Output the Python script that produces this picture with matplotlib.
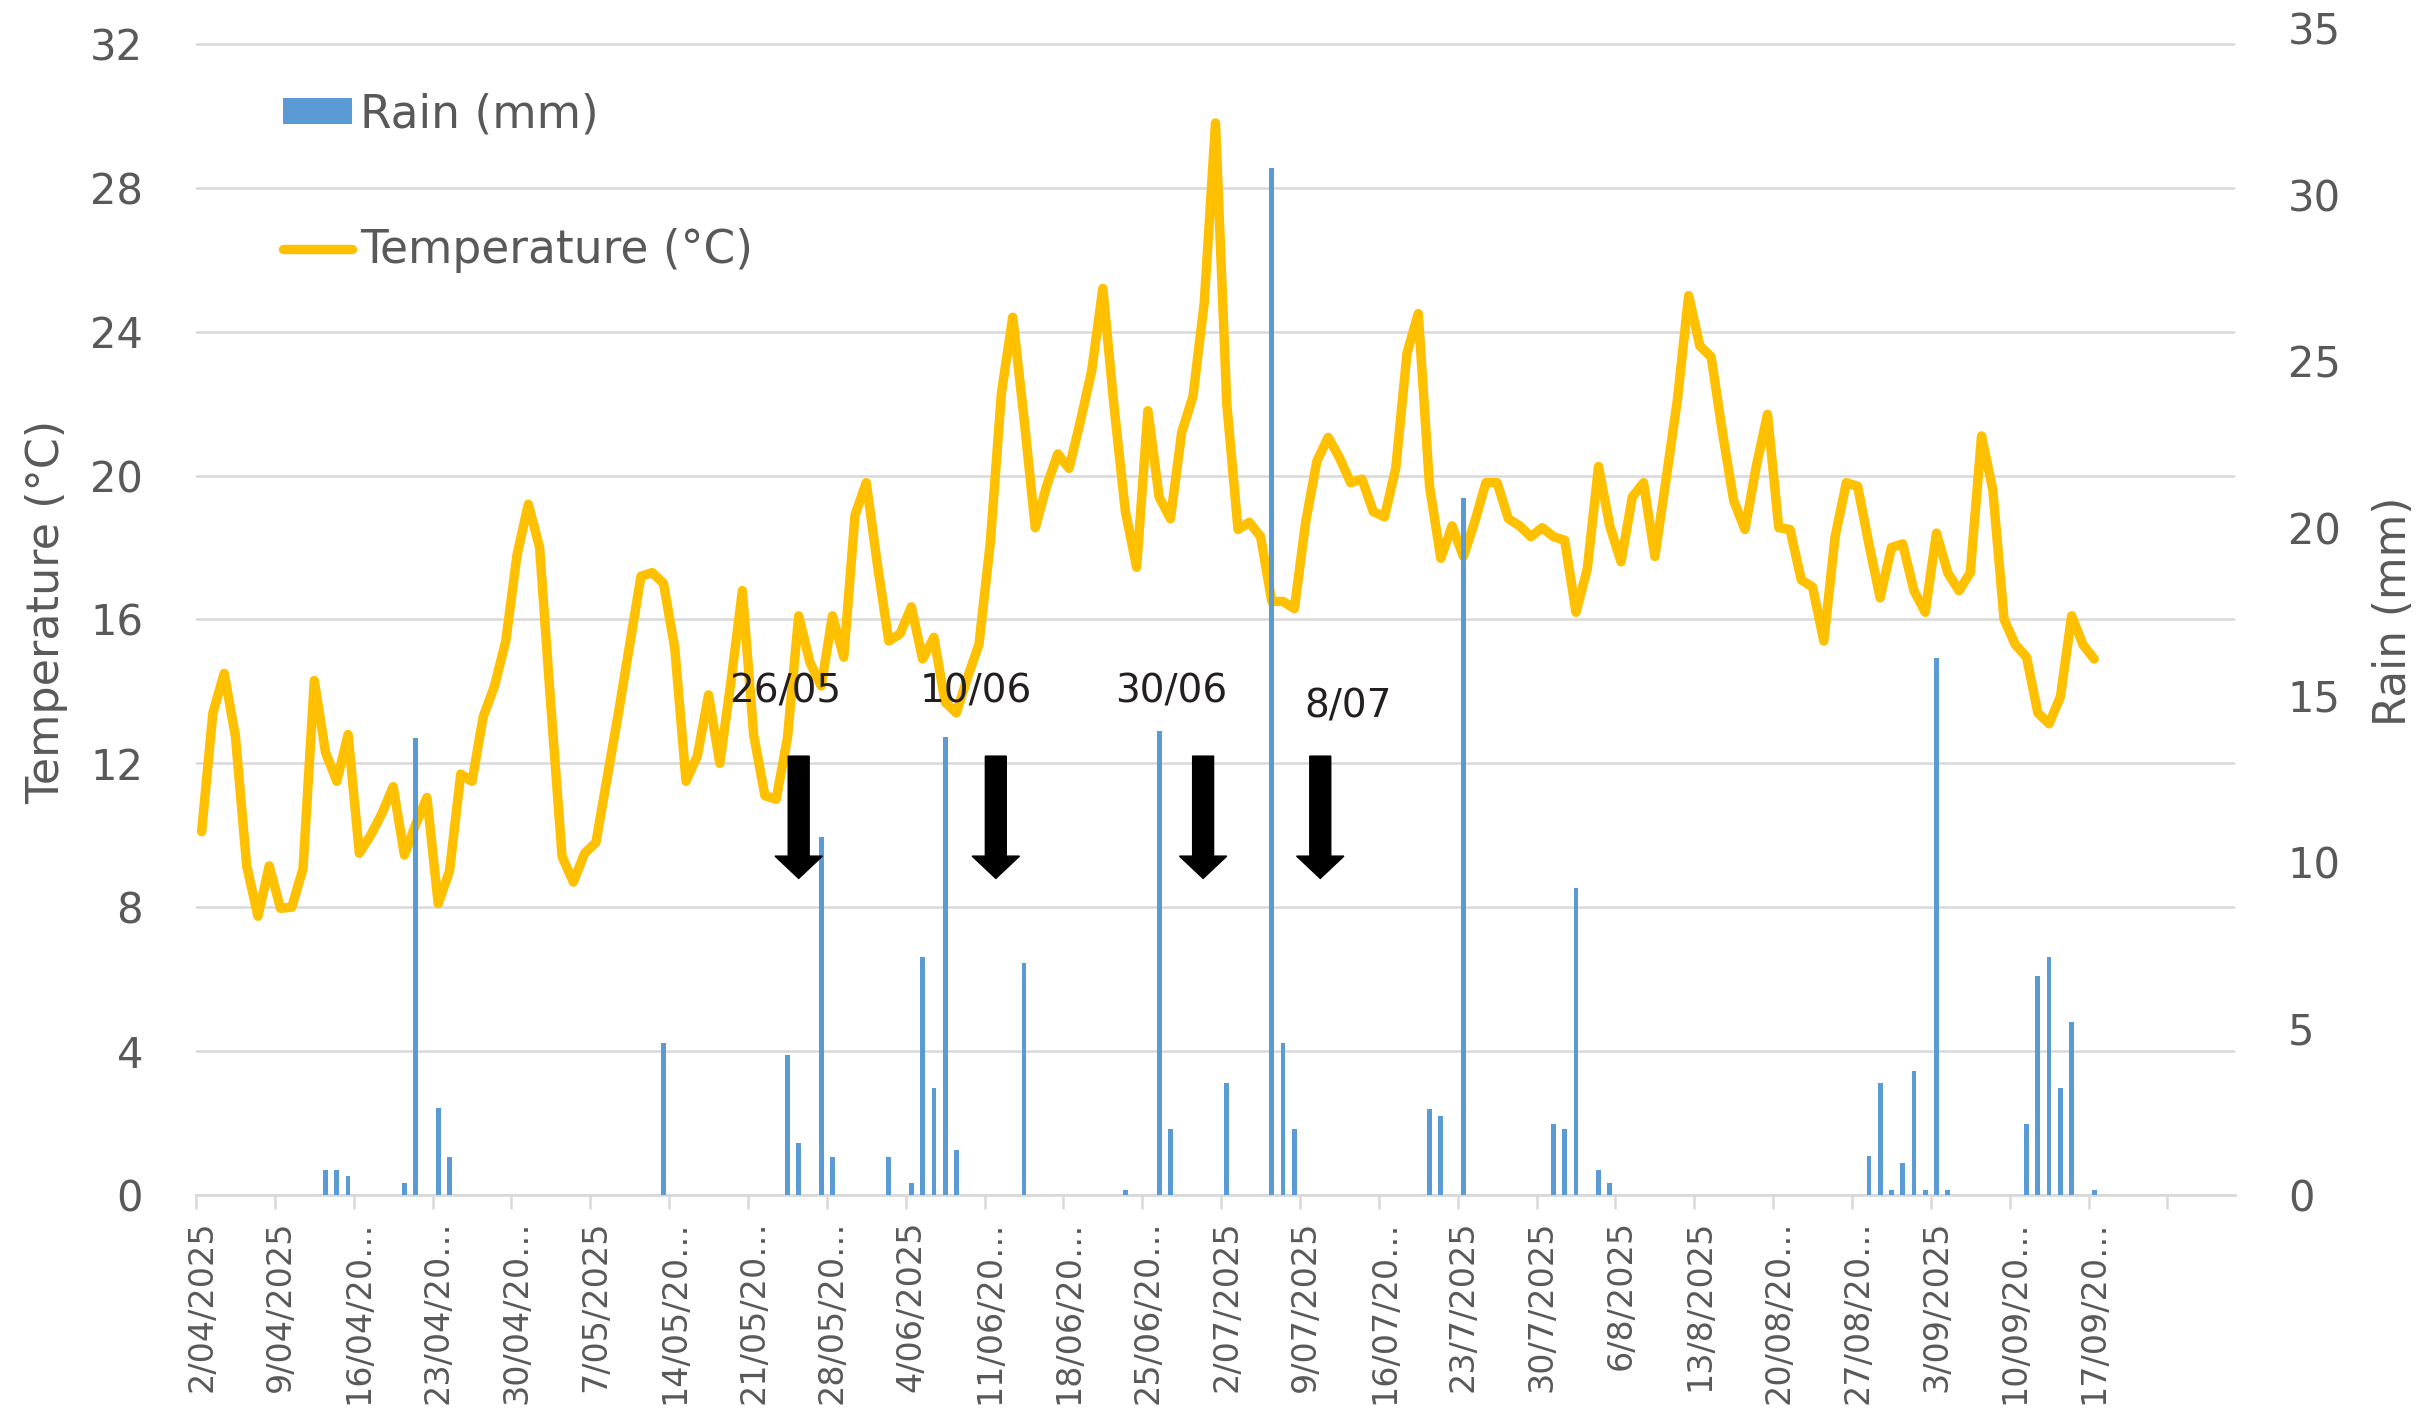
import numpy as np
import pandas as pd
import matplotlib
matplotlib.use("Agg")
import matplotlib.pyplot as plt
from matplotlib.patches import FancyArrow, Patch
from matplotlib.lines import Line2D

# ---------------- data ----------------
start_date = "2025-04-02"
n_days_axis = 181  # categories shown on the x axis (2/04 .. 29/09)

temperature_c = [
    10.1, 13.4, 14.5, 12.75, 9.15, 7.75, 9.15, 7.97, 8.0, 9.07,
    14.3, 12.3, 11.5, 12.8, 9.5, 10.0, 10.6, 11.35, 9.45, 10.3,
    11.05, 8.1, 9.0, 11.7, 11.5, 13.3, 14.15, 15.4, 17.8, 19.2,
    18.0, 13.6, 9.4, 8.7, 9.5, 9.8, 11.6, 13.4, 15.3, 17.2,
    17.3, 17.0, 15.2, 11.5, 12.2, 13.9, 12.0, 14.3, 16.8, 12.8,
    11.1, 11.0, 12.7, 16.1, 14.8, 14.15, 16.1, 14.95, 18.9, 19.8,
    17.5, 15.4, 15.6, 16.35, 14.9, 15.5, 13.7, 13.4, 14.4, 15.3,
    18.1, 22.3, 24.4, 21.6, 18.55, 19.7, 20.6, 20.2, 21.5, 22.9,
    25.2, 21.9, 19.0, 17.45, 21.8, 19.4, 18.8, 21.2, 22.2, 24.8,
    29.8, 22.0, 18.5, 18.7, 18.3, 16.5, 16.5, 16.3, 18.7, 20.4,
    21.06, 20.5, 19.8, 19.9, 19.0, 18.85, 20.2, 23.4, 24.5, 19.7,
    17.7, 18.6, 17.75, 18.7, 19.8, 19.8, 18.8, 18.6, 18.3, 18.55,
    18.3, 18.2, 16.2, 17.4, 20.25, 18.6, 17.6, 19.4, 19.8, 17.75,
    19.9, 22.1, 25.0, 23.6, 23.3, 21.2, 19.3, 18.5, 20.25, 21.7,
    18.55, 18.5, 17.1, 16.9, 15.4, 18.3, 19.8, 19.7, 18.1, 16.6,
    18.0, 18.1, 16.8, 16.2, 18.4, 17.3, 16.8, 17.3, 21.1, 19.6,
    16.0, 15.3, 14.95, 13.4, 13.1, 13.85, 16.1, 15.3, 14.9,
]

rain_dates = [
    "2025-04-13", "2025-04-14", "2025-04-15", "2025-04-20", "2025-04-21",
    "2025-04-23", "2025-04-24", "2025-05-13", "2025-05-24", "2025-05-25",
    "2025-05-27", "2025-05-28", "2025-06-02", "2025-06-04", "2025-06-05",
    "2025-06-06", "2025-06-07", "2025-06-08", "2025-06-14", "2025-06-23",
    "2025-06-26", "2025-06-27", "2025-07-02", "2025-07-06", "2025-07-07",
    "2025-07-08", "2025-07-20", "2025-07-21", "2025-07-23", "2025-07-31",
    "2025-08-01", "2025-08-02", "2025-08-04", "2025-08-05", "2025-08-28",
    "2025-08-29", "2025-08-30", "2025-08-31", "2025-09-01", "2025-09-02",
    "2025-09-03", "2025-09-04", "2025-09-11", "2025-09-12", "2025-09-13",
    "2025-09-14", "2025-09-15", "2025-09-17",
]
rain_mm = [
    0.74, 0.74, 0.57, 0.36, 13.7,
    2.6, 1.15, 4.56, 4.19, 1.56,
    10.74, 1.14, 1.14, 0.36, 7.15,
    3.2, 13.73, 1.34, 6.95, 0.15,
    13.93, 1.98, 3.35, 30.8, 4.56,
    1.98, 2.57, 2.36, 20.9, 2.14,
    1.98, 9.2, 0.74, 0.36, 1.16,
    3.35, 0.15, 0.95, 3.72, 0.15,
    16.1, 0.15, 2.14, 6.57, 7.15,
    3.2, 5.18, 0.15,
]

tick_labels = [
    "2/04/2025", "9/04/2025", "16/04/20…", "23/04/20…", "30/04/20…",
    "7/05/2025", "14/05/20…", "21/05/20…", "28/05/20…", "4/06/2025",
    "11/06/20…", "18/06/20…", "25/06/20…", "2/07/2025", "9/07/2025",
    "16/07/20…", "23/7/2025", "30/7/2025", "6/8/2025", "13/8/2025",
    "20/08/20…", "27/08/20…", "3/09/2025", "10/09/20…", "17/09/20…",
]

sowing_labels = ["26/05", "10/06", "30/06", "8/07"]
arrow_day = [53.0, 70.5, 88.9, 99.3]
label_day = [51.8, 68.7, 86.1, 101.8]
label_temp = [14.0, 14.0, 14.0, 13.57]

# ---------------- derived ----------------
t0 = pd.Timestamp(start_date)
temp_x = np.arange(len(temperature_c))
rain_x = np.array([(pd.Timestamp(d) - t0).days for d in rain_dates])

TXT = "#595959"
GRID = "#D9D9D9"
BLUE = "#5B9BD5"
GOLD = "#FFC000"
LW = 6.8
plt.rcParams["font.family"] = ["DejaVu Sans"]

fig = plt.figure(figsize=(24.33, 14.11), dpi=100)
ax = fig.add_axes([196 / 2433, 1 - 1195 / 1411, (2235 - 196) / 2433, (1195 - 28) / 1411])
ax2 = ax.twinx()

# temperature line (primary axis)
ax.plot(temp_x, temperature_c, color=GOLD, lw=LW, solid_joinstyle="round",
        solid_capstyle="round", zorder=3)
ax.set_xlim(-0.5, n_days_axis - 0.5)
ax.set_ylim(0, 32.44)
ax.set_yticks(np.arange(0, 33, 4))
ax.yaxis.grid(True, color=GRID, lw=1.8)
ax.set_axisbelow(True)

# rain bars (secondary axis)
ax2.bar(rain_x, rain_mm, width=0.42, color=BLUE, zorder=3)
ax2.set_ylim(0, 35)
ax2.set_yticks(np.arange(0, 36, 5))

for a in (ax, ax2):
    for s in ("top", "left", "right"):
        a.spines[s].set_visible(False)
ax.spines["bottom"].set_color(GRID)
ax.spines["bottom"].set_linewidth(2)
ax2.spines["bottom"].set_visible(False)

ax.tick_params(axis="y", length=0, pad=38, labelsize=30, labelcolor=TXT)
ax2.tick_params(axis="y", length=0, pad=38, labelsize=30, labelcolor=TXT)

# x ticks: marks at category boundaries, labels at category centres
ax.set_xticks(np.arange(0, len(tick_labels) * 7, 7))
ax.set_xticklabels(tick_labels, rotation=90, va="top", ha="center")
ax.set_xticks(np.arange(-0.5, 175.6, 7), minor=True)
ax.tick_params(axis="x", which="major", length=0, pad=18, labelsize=24, labelcolor=TXT)
ax.tick_params(axis="x", which="minor", length=10, width=1.8, color=GRID, direction="out")

ax.set_ylabel("Temperature (°C)", fontsize=32, color=TXT)
ax.yaxis.set_label_coords(-0.0628, 0.5)
ax2.set_ylabel("Rain (mm)", fontsize=31.5, color=TXT, rotation=90)
ax2.yaxis.set_label_coords(1.0672, 0.5)

# arrows and dates (drawn above bars)
for xa in arrow_day:
    arr = FancyArrow(xa, 12.2, 0, -3.4, width=1.86, head_width=4.2, head_length=0.62,
                     length_includes_head=True, color="black", transform=ax.transData,
                     zorder=6)
    ax2.add_patch(arr)
for lab, xl, yl in zip(sowing_labels, label_day, label_temp):
    ax2.text(xl, yl, lab, transform=ax.transData, fontsize=28, color="#231F20",
             ha="center", va="center", zorder=7)

# legend
handles = [Patch(facecolor=BLUE, edgecolor="none"),
           Line2D([0], [0], color=GOLD, lw=LW, solid_capstyle="round")]
leg = ax2.legend(handles, ["Rain (mm)", "Temperature (°C)"], loc="upper left",
                 bbox_to_anchor=(0.0428, 0.945), frameon=False, fontsize=32.8,
                 labelspacing=2.0, handlelength=1.5, handleheight=0.5,
                 handletextpad=0.18, borderpad=0, borderaxespad=0)
for t in leg.get_texts():
    t.set_color(TXT)

fig.savefig("out.png", dpi=100, facecolor="white")
